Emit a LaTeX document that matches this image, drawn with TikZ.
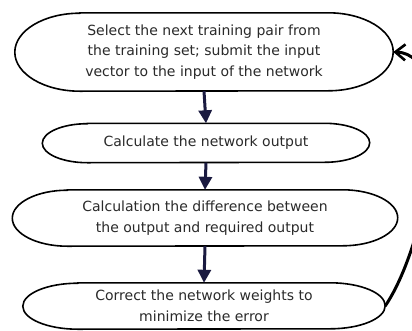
\documentclass[tikz,border=0pt]{standalone}
\usepackage{fontspec}
\setmainfont{DejaVu Sans}
\usetikzlibrary{arrows.meta}
\definecolor{txt}{HTML}{2A2A2A}
\definecolor{arr}{HTML}{1A1A40}
\tikzset{
  stepbox/.style={rectangle, inner sep=0pt, align=center, text=txt,
    font=\fontsize{14}{20.5}\selectfont},
  outline/.style={line width=1.6pt, black},
  flow/.style={line width=3pt, arr, -{Triangle[length=13pt,width=13pt]}},
  back/.style={line width=3pt, black, -{Straight Barb[length=10pt,width=16pt,line width=2.6pt]}}
}
\newcommand\stadium[3]{%
  \draw[outline] ([xshift=#2]#1.north west) -- ([xshift=-#2]#1.north east)
    arc[start angle=90,end angle=-90,x radius=#2,y radius=#3]
    -- ([xshift=#2]#1.south west)
    arc[start angle=270,end angle=90,x radius=#2,y radius=#3] -- cycle;}
\begin{document}
\begin{tikzpicture}[x=1pt,y=-1pt]
  \clip (0,0) rectangle (412,330);
  \fill[white] (0,0) rectangle (412,330);
  \node[stepbox, minimum width=378pt, minimum height=78pt] (n1) at (204,52)
    {Select the next training pair from\\the training set; submit the input\\vector to the input of the network};
  \node[stepbox, minimum width=327pt, minimum height=39pt] (n2) at (206,143)
    {Calculate the network output};
  \node[stepbox, minimum width=385pt, minimum height=56pt] (n3) at (205,218)
    {Calculation the difference between\\the output and required output};
  \node[stepbox, minimum width=362pt, minimum height=46pt] (n4) at (204,306)
    {Correct the network weights to\\minimize the error};
  \stadium{n1}{65pt}{39pt}
  \stadium{n2}{45pt}{19.5pt}
  \stadium{n3}{55pt}{28pt}
  \stadium{n4}{55pt}{23pt}
  \draw[flow] (n1.south) -- (n2.north);
  \draw[flow] (n2.south) -- (n3.north);
  \draw[flow] (n3.south) -- (n4.north);
  \draw[back] (n4.east) .. controls (430,240) and (460,54) .. (n1.east);
\end{tikzpicture}
\end{document}
